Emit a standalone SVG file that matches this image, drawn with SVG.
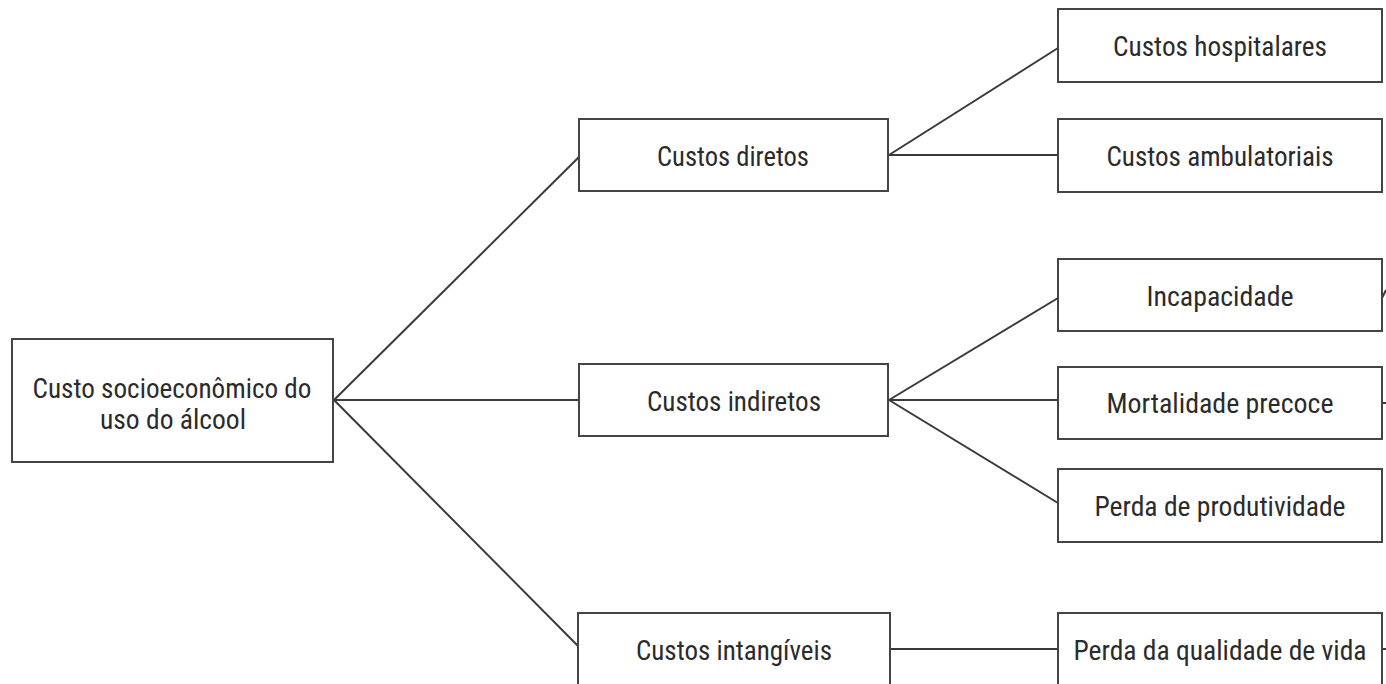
<svg xmlns="http://www.w3.org/2000/svg" width="1386" height="684" viewBox="0 0 1386 684">
<style>
.box{fill:#fff;stroke:#444;stroke-width:2}
.lbl{font-family:"Liberation Sans Narrow","Roboto Condensed","DejaVu Sans Condensed","Liberation Sans",Arial,sans-serif;font-size:27px;fill:#2b2b2b;text-anchor:middle}
.con{stroke:#3a3a3a;stroke-width:2;fill:none}
</style>
<rect width="1386" height="684" fill="#fff"/>
<g id="connectors">
<line class="con" x1="334" y1="400" x2="579" y2="157"/>
<line class="con" x1="334" y1="400" x2="579" y2="400"/>
<line class="con" x1="334" y1="400" x2="578" y2="646"/>
<line class="con" x1="889" y1="155" x2="1058" y2="48"/>
<line class="con" x1="889" y1="155" x2="1058" y2="155"/>
<line class="con" x1="889" y1="400" x2="1058" y2="298"/>
<line class="con" x1="889" y1="400" x2="1058" y2="400"/>
<line class="con" x1="889" y1="400" x2="1058" y2="503"/>
<line class="con" x1="890" y1="649" x2="1058" y2="649"/>
<line class="con" x1="1382" y1="298" x2="1386" y2="290"/>
<line class="con" x1="1382" y1="403" x2="1386" y2="403"/>
<line class="con" x1="1382" y1="649" x2="1386" y2="649"/>
</g>
<g id="root">
<rect class="box" x="12" y="339" width="321" height="123"/>
<text class="lbl" x="172" y="398" textLength="279" lengthAdjust="spacingAndGlyphs">Custo socioeconômico do</text>
<text class="lbl" x="173" y="429" textLength="146" lengthAdjust="spacingAndGlyphs">uso do álcool</text>
</g>
<g id="diretos">
<rect class="box" x="579" y="119" width="309" height="72"/>
<text class="lbl" x="733" y="166" textLength="152" lengthAdjust="spacingAndGlyphs">Custos diretos</text>
</g>
<g id="indiretos">
<rect class="box" x="579" y="364" width="309" height="72"/>
<text class="lbl" x="734" y="411" textLength="174" lengthAdjust="spacingAndGlyphs">Custos indiretos</text>
</g>
<g id="intangiveis">
<rect class="box" x="578" y="613" width="312" height="80"/>
<text class="lbl" x="734" y="660" textLength="196" lengthAdjust="spacingAndGlyphs">Custos intangíveis</text>
</g>
<g id="hospitalares">
<rect class="box" x="1058" y="9" width="324" height="73"/>
<text class="lbl" x="1220" y="56" textLength="214" lengthAdjust="spacingAndGlyphs">Custos hospitalares</text>
</g>
<g id="ambulatoriais">
<rect class="box" x="1058" y="119" width="324" height="73"/>
<text class="lbl" x="1220" y="166" textLength="227" lengthAdjust="spacingAndGlyphs">Custos ambulatoriais</text>
</g>
<g id="incapacidade">
<rect class="box" x="1058" y="259" width="324" height="72"/>
<text class="lbl" x="1220" y="306" textLength="147" lengthAdjust="spacingAndGlyphs">Incapacidade</text>
</g>
<g id="mortalidade">
<rect class="box" x="1058" y="367" width="324" height="72"/>
<text class="lbl" x="1220" y="413" textLength="227" lengthAdjust="spacingAndGlyphs">Mortalidade precoce</text>
</g>
<g id="produtividade">
<rect class="box" x="1058" y="469" width="324" height="73"/>
<text class="lbl" x="1220" y="516" textLength="251" lengthAdjust="spacingAndGlyphs">Perda de produtividade</text>
</g>
<g id="qualidade">
<rect class="box" x="1058" y="613" width="324" height="80"/>
<text class="lbl" x="1220" y="660" textLength="293" lengthAdjust="spacingAndGlyphs">Perda da qualidade de vida</text>
</g>
</svg>
